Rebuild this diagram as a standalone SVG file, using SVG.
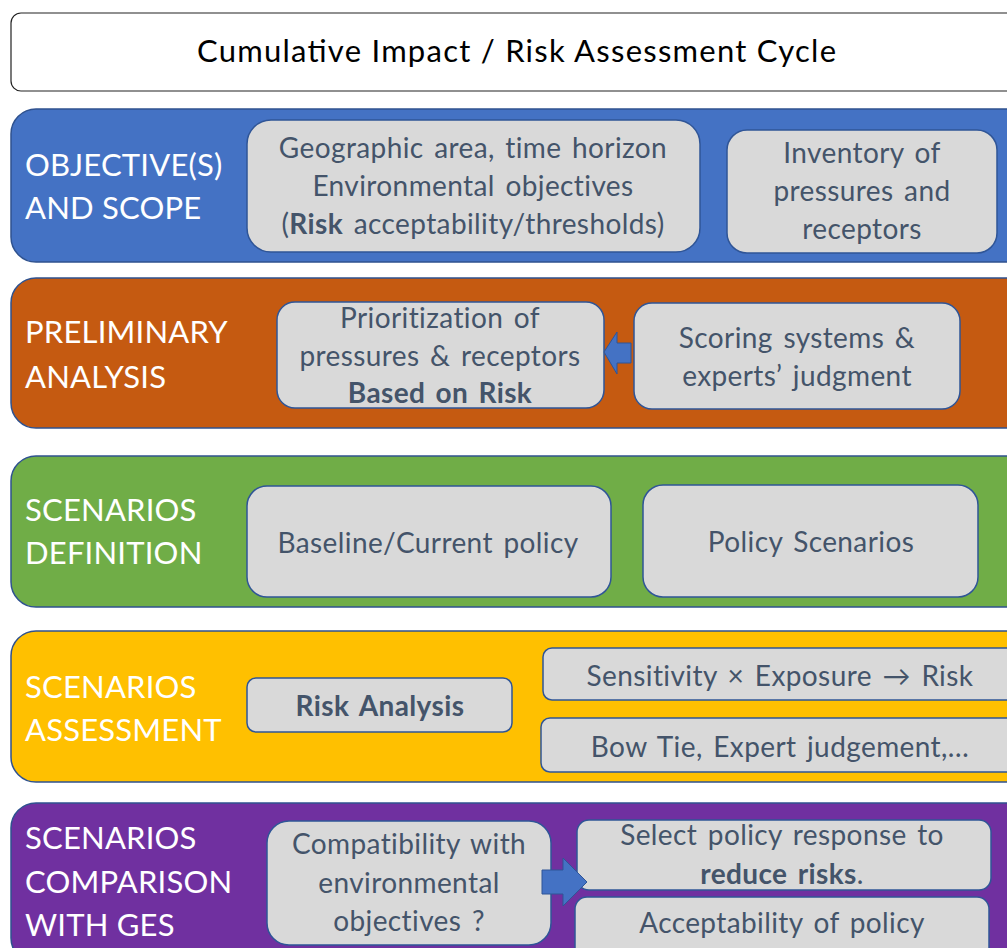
<svg xmlns="http://www.w3.org/2000/svg" width="1007" height="948" viewBox="0 0 1007 948">
<style>
.band{stroke:#2F528F;stroke-width:1.5}
.box{fill:#D9D9D9;stroke:#2F5597;stroke-width:1.5}
.lbl{font-family:Lato,"Open Sans",sans-serif;font-size:31px;fill:#FFFFFF;letter-spacing:0.2px}
.t{font-family:Lato,"Open Sans",sans-serif;font-size:28px;fill:#44546A;text-anchor:middle;letter-spacing:0.4px;word-spacing:3px}
.b{font-weight:bold}
.arrow{fill:#4472C4;stroke:#2F5597;stroke-width:1}
</style>
<rect width="1007" height="948" fill="#FFFFFF"/>
<g id="title">
<rect x="11" y="13" width="1010" height="78" rx="10" fill="#FFFFFF" stroke="#222222" stroke-width="1.2"/>
<text x="197" y="62" font-family="Lato,'Open Sans',sans-serif" font-size="31" fill="#000000" textLength="639" lengthAdjust="spacing">Cumulative Impact  / Risk Assessment Cycle</text>
</g>
<g id="objectives">
<rect class="band" x="11" y="109" width="1020" height="153" rx="25" fill="#4472C4"/>
<text class="lbl" x="25" y="176">OBJECTIVE(S)</text>
<text class="lbl" x="25" y="219">AND SCOPE</text>
</g>
<g id="geo">
<rect class="box" x="247" y="120" width="453" height="132" rx="24"/>
<text class="t" x="473" y="158">Geographic area, time horizon</text>
<text class="t" x="473" y="196">Environmental objectives</text>
<text class="t" x="473" y="234">(<tspan class="b">Risk</tspan> acceptability/thresholds)</text>
</g>
<g id="inventory">
<rect class="box" x="727" y="130" width="270" height="123" rx="20"/>
<text class="t" x="862" y="163">Inventory of</text>
<text class="t" x="862" y="201">pressures and</text>
<text class="t" x="862" y="239">receptors</text>
</g>
<g id="preliminary">
<rect class="band" x="11" y="278" width="1020" height="150" rx="25" fill="#C55A11"/>
<text class="lbl" x="25" y="343">PRELIMINARY</text>
<text class="lbl" x="25" y="388">ANALYSIS</text>
</g>
<g id="prioritization">
<rect class="box" x="277" y="302" width="327" height="106" rx="18"/>
<text class="t" x="440" y="328">Prioritization of</text>
<text class="t" x="440" y="366">pressures &amp; receptors</text>
<text class="t b" x="440" y="403">Based on Risk</text>
</g>
<g id="scoring">
<rect class="box" x="634" y="303" width="326" height="106" rx="18"/>
<text class="t" x="797" y="348">Scoring systems &amp;</text>
<text class="t" x="797" y="386">experts’ judgment</text>
</g>
<g id="definition">
<rect class="band" x="11" y="456" width="1020" height="151" rx="25" fill="#70AD47"/>
<text class="lbl" x="25" y="521">SCENARIOS</text>
<text class="lbl" x="25" y="564">DEFINITION</text>
</g>
<g id="baseline">
<rect class="box" x="247" y="486" width="364" height="111" rx="20"/>
<text class="t" x="428" y="553">Baseline/Current  policy</text>
</g>
<g id="policyscen">
<rect class="box" x="643" y="485" width="335" height="112" rx="20"/>
<text class="t" x="811" y="552">Policy Scenarios</text>
</g>
<g id="assessment">
<rect class="band" x="11" y="631" width="1020" height="151" rx="25" fill="#FFC000"/>
<text class="lbl" x="25" y="698">SCENARIOS</text>
<text class="lbl" x="25" y="741">ASSESSMENT</text>
</g>
<g id="riskanalysis">
<rect class="box" x="247" y="678" width="265" height="54" rx="9"/>
<text class="t b" x="380" y="716">Risk Analysis</text>
</g>
<g id="sensitivity">
<rect class="box" x="543" y="648" width="480" height="52" rx="9"/>
<text class="t" x="780" y="686">Sensitivity × Exposure → Risk</text>
</g>
<g id="bowtie">
<rect class="box" x="541" y="718" width="480" height="54" rx="9"/>
<text class="t" x="780" y="757">Bow Tie, Expert judgement,…</text>
</g>
<g id="comparison">
<rect class="band" x="11" y="803" width="1020" height="160" rx="25" fill="#7030A0"/>
<text class="lbl" x="25" y="849">SCENARIOS</text>
<text class="lbl" x="25" y="893">COMPARISON</text>
<text class="lbl" x="25" y="936">WITH GES</text>
</g>
<g id="compat">
<rect class="box" x="267" y="821" width="284" height="124" rx="22"/>
<text class="t" x="409" y="854">Compatibility with</text>
<text class="t" x="409" y="893">environmental</text>
<text class="t" x="409" y="931">objectives ?</text>
</g>
<g id="select">
<rect class="box" x="577" y="820" width="414" height="70" rx="12"/>
<text class="t" x="782" y="845">Select policy response to</text>
<text class="t" x="782" y="884"><tspan class="b">reduce risks</tspan>.</text>
</g>
<g id="acceptability">
<rect class="box" x="575" y="897" width="414" height="70" rx="12"/>
<text class="t" x="782" y="933">Acceptability of policy</text>
</g>
<g id="connectors">
<path class="arrow" d="M631,343 L617,343 L617,332 L604,352 L617,374 L617,363 L631,363 Z"/>
<path class="arrow" d="M542,870 L563,870 L563,858 L587,882 L563,906 L563,894 L542,894 Z"/>
</g>
</svg>
